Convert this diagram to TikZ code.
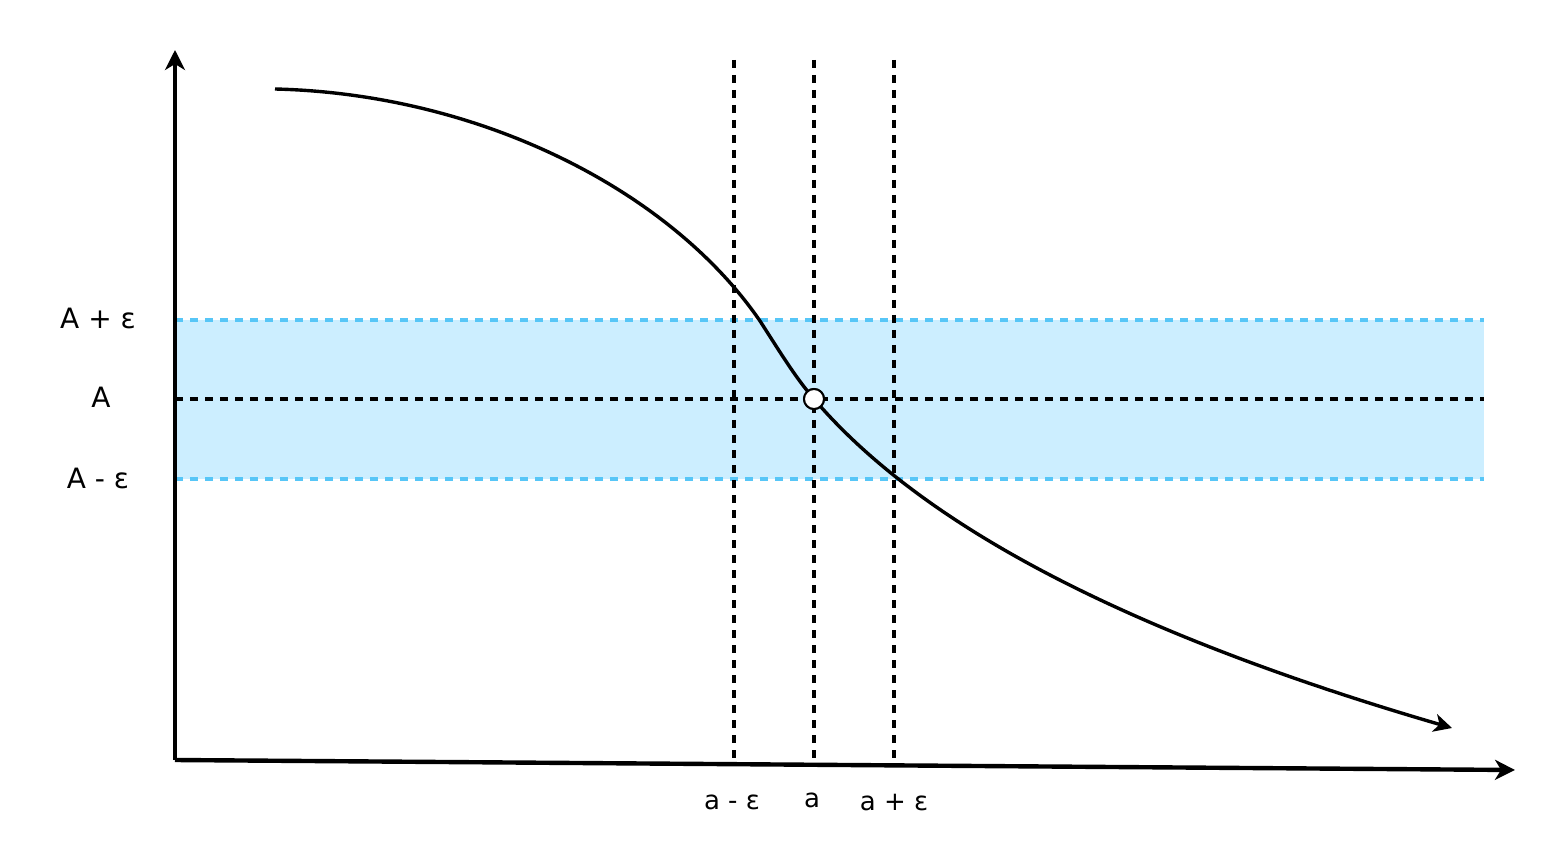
\documentclass[tikz,border=0pt]{standalone}
\usepackage{fontspec}
\setmainfont{DejaVu Sans}
\usepackage{xcolor}
\usetikzlibrary{arrows.meta,positioning,calc}

\definecolor{bandfill}{HTML}{CCEEFF}
\definecolor{bandline}{HTML}{57C6F7}

\begin{document}
\begin{tikzpicture}[
  x=0.5pt, y=-0.5pt,
  axis/.style={line width=2.2pt, -{Stealth[length=10pt,width=10pt,inset=3pt]}},
  guide/.style={line width=1.7pt, dash pattern=on 4pt off 3.5pt},
  bandedge/.style={guide, draw=bandline},
  curve/.style={line width=1.7pt, -{Stealth[length=9pt,width=9pt,inset=2.5pt]}},
  lbl/.style={font=\fontsize{14}{16}\selectfont, inner sep=0pt},
  tick/.style={font=\fontsize{13}{15}\selectfont, inner sep=0pt}
]
\useasboundingbox (0,0) rectangle (1566,865);

% axes
\coordinate (O) at (175,760);
\coordinate (ytop) at (175,50);
\coordinate (xend) at (1515,770);

% band around A
\fill[bandfill] (175,320) rectangle (1484,479);
\coordinate (bl) at (175,320);  \coordinate (br) at (1484,320);
\coordinate (cl) at (175,399);  \coordinate (cr) at (1484,399);
\coordinate (dl) at (175,479);  \coordinate (dr) at (1484,479);
\draw[bandedge] (bl) -- (br);
\draw[bandedge] (dl) -- (dr);
\draw[guide] (cl) -- (cr);

% vertical guides
\foreach \x/\n in {734/am, 814/a0, 894/ap} {
  \coordinate (\n top) at (\x,60);
  \coordinate (\n bot) at (\x,760);
  \draw[guide] (\n top) -- (\n bot);
}

\draw[axis] (O) -- (ytop);
\draw[axis] (O) -- (xend);

% the function
\coordinate (fstart) at (275,89);
\coordinate (fmid) at (760,321);
\coordinate (fend) at (1452,728);
\node[circle, draw, line width=1pt, fill=white, minimum size=10pt, inner sep=0pt] (lim) at (814,399) {};
\draw[curve] (fstart) .. controls (480,94) and (670,190) .. (fmid)
  .. controls (780,352) and (795,377) .. (lim.center)
  .. controls (930,535) and (1150,640) .. (fend);
\node[circle, draw, line width=1pt, fill=white, minimum size=10pt, inner sep=0pt] at (lim) {};

% labels
\node[lbl] (Aplus) at (98,318) {A + ε};
\node[lbl] (Aval) at (101,397) {A};
\node[lbl] (Aminus) at (98,478) {A - ε};
\node[tick] (aminus) at (732,802) {a - ε};
\node[tick] (aval) at (812,800) {a};
\node[tick] (aplus) at (894,803) {a + ε};
\end{tikzpicture}
\end{document}
